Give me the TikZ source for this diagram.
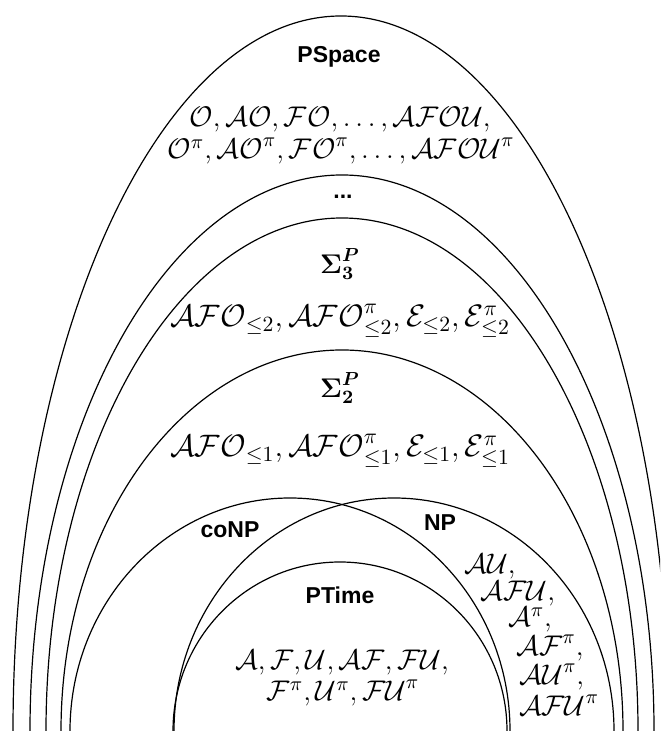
\RequirePackage{fix-cm}
\documentclass[tikz,border=0pt]{standalone}
\usepackage{amsmath}
\usepackage{bm}
\usepackage{fontspec}
\newfontfamily\lblfont{Liberation Sans}
\begin{document}
\begin{tikzpicture}[x=0.5pt, y=0.5pt,
    arch/.style={line width=0.6pt},
    cls/.style={font=\lblfont\bfseries\fontsize{11.5}{13}\selectfont},
    lvl/.style={font=\fontsize{13.5}{15}\selectfont},
    lang/.style={font=\fontsize{15.5}{17}\selectfont, inner sep=0pt},
    small lang/.style={lang, font=\fontsize{14.2}{16}\selectfont}]
    \useasboundingbox (0,0) rectangle (660,731);
    \clip (0,0) rectangle (660,731);

    % nested classes, centres on the lower edge
    \foreach \cx/\rx/\ry in {341/328/715, 342/312/556, 342/296/513, 342/281/381,
                             290/220/233, 394/220/233, 340/167/169}
      {
        \draw[arch] (\cx-\rx, 0) arc[start angle=180, end angle=0, x radius=\rx, y radius=\ry];
      }

    \node[cls] (pspace) at (339, 674) {PSpace};
    \node[small lang] (pspaceA) at (340, 611) {$\mathcal{O}, \mathcal{AO}, \mathcal{FO}, \ldots, \mathcal{AFOU},$};
    \node[small lang] (pspaceB) at (341, 580) {$\mathcal{O}^\pi, \mathcal{AO}^\pi, \mathcal{FO}^\pi, \ldots, \mathcal{AFOU}^\pi$};

    \node[cls] (dots) at (343, 534) {...};

    \node[lvl] (sigthree) at (340, 467) {$\bm{\Sigma^P_3}$};
    \node[lang] (sigthreeL) at (340, 410) {$\mathcal{AFO}_{\leq 2}, \mathcal{AFO}^\pi_{\leq 2}, \mathcal{E}_{\leq 2}, \mathcal{E}^\pi_{\leq 2}$};

    \node[lvl] (sigtwo) at (340, 343) {$\bm{\Sigma^P_2}$};
    \node[lang] (sigtwoL) at (340, 280) {$\mathcal{AFO}_{\leq 1}, \mathcal{AFO}^\pi_{\leq 1}, \mathcal{E}_{\leq 1}, \mathcal{E}^\pi_{\leq 1}$};

    \node[cls] (conp) at (230, 201) {coNP};
    \node[cls] (np) at (440, 208) {NP};

    \node[cls] (ptime) at (340, 136) {PTime};
    \node[small lang] (ptimeA) at (342, 68) {$\mathcal{A}, \mathcal{F}, \mathcal{U}, \mathcal{AF}, \mathcal{FU},$};
    \node[small lang] (ptimeB) at (343, 38) {$\mathcal{F}^\pi, \mathcal{U}^\pi, \mathcal{FU}^\pi$};

    % NP-complete ones, in the right strip
    \node[small lang] (npA) at (490, 164) {$\mathcal{AU},$};
    \node[small lang] (npB) at (518, 137) {$\mathcal{AFU},$};
    \node[small lang] (npC) at (530, 111) {$\mathcal{A}^\pi,$};
    \node[small lang] (npD) at (550, 83) {$\mathcal{AF}^\pi,$};
    \node[small lang] (npE) at (552, 54) {$\mathcal{AU}^\pi,$};
    \node[small lang] (npF) at (559, 26) {$\mathcal{AFU}^\pi$};
  \end{tikzpicture}
\end{document}
